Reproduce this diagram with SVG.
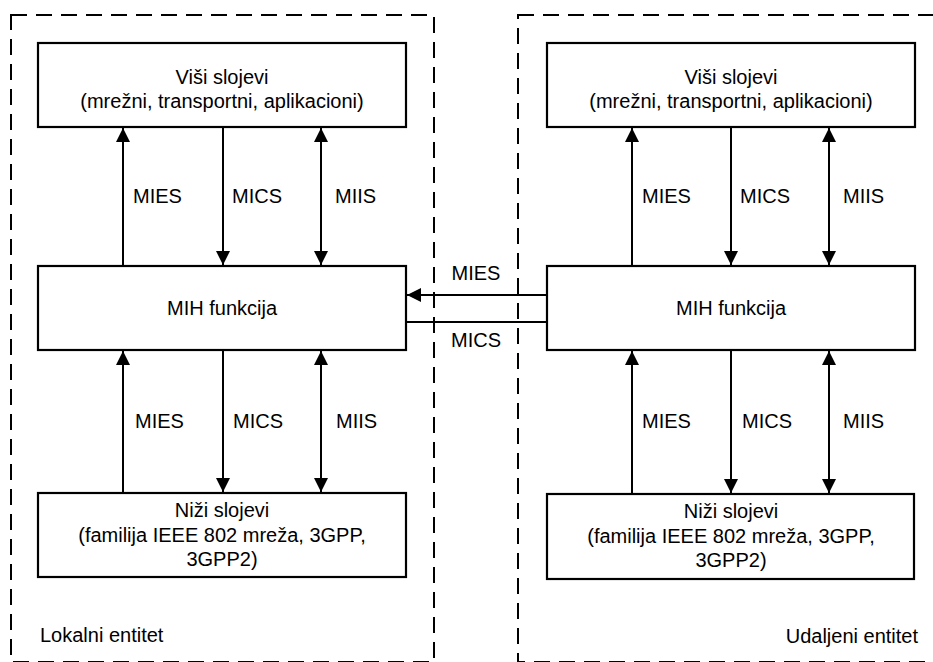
<svg xmlns="http://www.w3.org/2000/svg" width="933" height="662" viewBox="0 0 933 662">
  <style>
    .frame { fill: none; stroke: #000; stroke-width: 2; stroke-dasharray: 16 9; }
    .box { fill: #fff; stroke: #000; stroke-width: 2.2; }
    .link { fill: none; stroke: #000; stroke-width: 2; }
    text { font-family: "Liberation Sans", Arial, sans-serif; font-size: 20px; fill: #000; }
    .c { text-anchor: middle; }
  </style>
  <defs>
    <marker id="arrow" viewBox="0 0 14 14" refX="14" refY="7" markerWidth="14" markerHeight="14" markerUnits="userSpaceOnUse" orient="auto-start-reverse">
      <path d="M0,0 L14,7 L0,14 z" fill="#000"/>
    </marker>
  </defs>

  <rect width="933" height="662" fill="#fff"/>

  <!-- entity frames -->
  <g id="local-entity">
    <rect class="frame" x="11" y="15" width="423" height="647"/>
    <text x="40" y="642">Lokalni entitet</text>
  </g>
  <g id="remote-entity">
    <rect class="frame" x="518" y="15" width="430" height="647"/>
    <text x="918" y="643" text-anchor="end">Udaljeni entitet</text>
  </g>

  <!-- connectors -->
  <g id="connectors">
    <!-- local: upper layers <-> MIH -->
    <line class="link" x1="123" y1="266" x2="123" y2="128" marker-end="url(#arrow)"/>
    <line class="link" x1="223" y1="127" x2="223" y2="265" marker-end="url(#arrow)"/>
    <line class="link" x1="321" y1="128" x2="321" y2="265" marker-start="url(#arrow)" marker-end="url(#arrow)"/>
    <text x="133" y="203">MIES</text>
    <text x="232" y="203">MICS</text>
    <text x="335" y="203">MIIS</text>

    <!-- local: MIH <-> lower layers -->
    <line class="link" x1="123" y1="493" x2="123" y2="351" marker-end="url(#arrow)"/>
    <line class="link" x1="223" y1="350" x2="223" y2="492" marker-end="url(#arrow)"/>
    <line class="link" x1="321" y1="351" x2="321" y2="492" marker-start="url(#arrow)" marker-end="url(#arrow)"/>
    <text x="135" y="428">MIES</text>
    <text x="233" y="428">MICS</text>
    <text x="336" y="428">MIIS</text>

    <!-- remote: upper layers <-> MIH -->
    <line class="link" x1="632" y1="266" x2="632" y2="128" marker-end="url(#arrow)"/>
    <line class="link" x1="731" y1="127" x2="731" y2="265" marker-end="url(#arrow)"/>
    <line class="link" x1="829" y1="128" x2="829" y2="265" marker-start="url(#arrow)" marker-end="url(#arrow)"/>
    <text x="642" y="203">MIES</text>
    <text x="740" y="203">MICS</text>
    <text x="843" y="203">MIIS</text>

    <!-- remote: MIH <-> lower layers -->
    <line class="link" x1="632" y1="494" x2="632" y2="351" marker-end="url(#arrow)"/>
    <line class="link" x1="731" y1="350" x2="731" y2="493" marker-end="url(#arrow)"/>
    <line class="link" x1="829" y1="351" x2="829" y2="493" marker-start="url(#arrow)" marker-end="url(#arrow)"/>
    <text x="642" y="428">MIES</text>
    <text x="742" y="428">MICS</text>
    <text x="843" y="428">MIIS</text>

    <!-- MIH <-> MIH -->
    <line class="link" x1="547" y1="295" x2="407" y2="295" marker-end="url(#arrow)"/>
    <line class="link" x1="406" y1="322" x2="547" y2="322"/>
    <text class="c" x="476" y="280">MIES</text>
    <text class="c" x="476" y="347">MICS</text>
  </g>

  <!-- local entity nodes -->
  <g id="local-upper">
    <rect class="box" x="38" y="43" width="368" height="84"/>
    <text class="c" x="222" y="84">Viši slojevi</text>
    <text class="c" x="222" y="108">(mrežni, transportni, aplikacioni)</text>
  </g>
  <g id="local-mih">
    <rect class="box" x="38" y="266" width="368" height="84"/>
    <text class="c" x="222" y="315">MIH funkcija</text>
  </g>
  <g id="local-lower">
    <rect class="box" x="38" y="493" width="368" height="84"/>
    <text class="c" x="222" y="517">Niži slojevi</text>
    <text class="c" x="222" y="542">(familija IEEE 802 mreža, 3GPP,</text>
    <text class="c" x="222" y="566">3GPP2)</text>
  </g>

  <!-- remote entity nodes -->
  <g id="remote-upper">
    <rect class="box" x="547" y="43" width="368" height="84"/>
    <text class="c" x="731" y="84">Viši slojevi</text>
    <text class="c" x="731" y="108">(mrežni, transportni, aplikacioni)</text>
  </g>
  <g id="remote-mih">
    <rect class="box" x="547" y="266" width="368" height="84"/>
    <text class="c" x="731" y="315">MIH funkcija</text>
  </g>
  <g id="remote-lower">
    <rect class="box" x="547" y="494" width="367" height="85"/>
    <text class="c" x="731" y="518">Niži slojevi</text>
    <text class="c" x="731" y="543">(familija IEEE 802 mreža, 3GPP,</text>
    <text class="c" x="731" y="567">3GPP2)</text>
  </g>
</svg>
